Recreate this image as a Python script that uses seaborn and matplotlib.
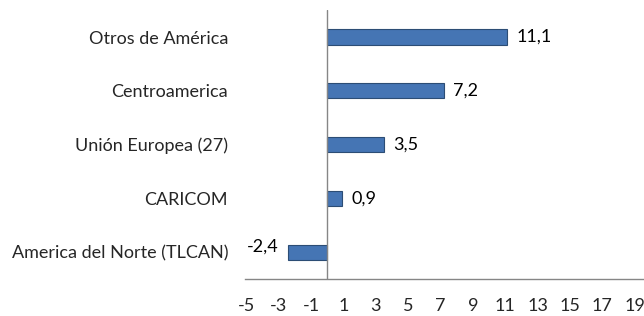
import matplotlib
matplotlib.use("Agg")
import matplotlib.pyplot as plt
import seaborn as sns
import pandas as pd

# Data
categories = ["Otros de América", "Centroamerica", "Unión Europea (27)", "CARICOM", "America del Norte (TLCAN)"]
values = [11.1, 7.2, 3.5, 0.9, -2.4]
value_labels = ["11,1", "7,2", "3,5", "0,9", "-2,4"]
x_ticks = list(range(-5, 20, 2))

df = pd.DataFrame({"region": categories, "valor": values})

sns.set_style("white")
plt.rcParams['font.family'] = ['Lato', 'DejaVu Sans']

fig = plt.figure(figsize=(6.44, 3.16), dpi=100)
ax = fig.add_axes([0.380, 0.117, 0.618, 0.851])

sns.barplot(data=df, x="valor", y="region", orient="h", color="#4575b4",
            width=0.28, edgecolor="#2c4d75", linewidth=0.8, saturation=1, ax=ax)

# value labels
for i, (v, lab) in enumerate(zip(values, value_labels)):
    if v >= 0:
        ax.text(v + 0.6, i, lab, va="center", ha="left", fontsize=13, color="#000000")
    else:
        ax.text(v - 0.6, i - 0.1, lab, va="center", ha="right", fontsize=13, color="#000000")

ax.set_xlim(-5.1, 19.5)
ax.set_ylim(4.5, -0.5)
ax.set_xticks(x_ticks)
ax.set_xticklabels([str(t) for t in x_ticks])
ax.axvline(0, color="#868686", linewidth=1)
ax.set_xlabel("")
ax.set_ylabel("")
ax.tick_params(axis="x", length=0, pad=14, labelsize=13)
ax.tick_params(axis="y", length=0, pad=12, labelsize=13)

for s in ["top", "right", "left"]:
    ax.spines[s].set_visible(False)
ax.spines["bottom"].set_color("#868686")
ax.spines["bottom"].set_linewidth(1)

plt.savefig("out.png", dpi=100)
